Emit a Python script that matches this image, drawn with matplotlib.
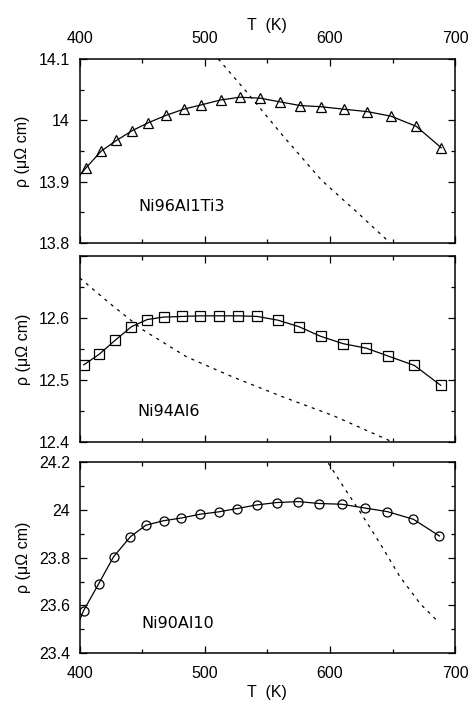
import matplotlib
matplotlib.use('Agg')
import matplotlib.pyplot as plt
from matplotlib.ticker import MultipleLocator, FuncFormatter

plt.rcParams['font.family'] = ['Liberation Sans', 'DejaVu Sans']

# Ni96Al1Ti3 (triangles)
t1 = [404.8, 417.3, 429.3, 441.9, 454.9, 469.0, 483.0, 497.0, 512.5, 528.0,
      544.0, 560.0, 576.0, 593.0, 611.0, 630.0, 649.0, 669.0, 689.0]
r1 = [13.922, 13.950, 13.967, 13.983, 13.996, 14.008, 14.018, 14.025, 14.033, 14.0375,
      14.036, 14.030, 14.024, 14.022, 14.018, 14.014, 14.0065, 13.990, 13.955]
fit1_t = [400.0] + t1
fit1_r = [13.91] + r1
dash1_t = [510.7, 534.7, 561.0, 593.3, 622.7, 648.0]
dash1_r = [14.100, 14.043, 13.978, 13.902, 13.848, 13.800]

# Ni94Al6 (squares)
t2 = [403.2, 415.5, 428.5, 441.3, 453.9, 467.0, 481.6, 496.0, 511.0, 526.4,
      541.9, 558.4, 575.2, 592.5, 610.7, 628.8, 646.7, 667.5, 688.5]
r2 = [12.525, 12.542, 12.565, 12.5865, 12.598, 12.602, 12.603, 12.604, 12.604, 12.604,
      12.603, 12.597, 12.5865, 12.571, 12.559, 12.552, 12.539, 12.524, 12.492]
dash2_t = [400.0, 424.0, 450.7, 485.3, 522.7, 562.7, 602.7, 650.7]
dash2_r = [12.665, 12.624, 12.581, 12.538, 12.505, 12.473, 12.443, 12.400]

# Ni90Al10 (circles)
t3 = [403.0, 415.0, 427.0, 440.5, 452.8, 467.0, 481.0, 496.0, 511.0, 525.9,
      541.3, 557.3, 574.7, 591.5, 609.3, 628.0, 645.9, 666.7, 687.5]
r3 = [23.578, 23.690, 23.804, 23.888, 23.936, 23.955, 23.966, 23.982, 23.992, 24.006,
      24.021, 24.031, 24.035, 24.027, 24.024, 24.008, 23.993, 23.961, 23.891]
fit3_t = [400.0] + t3
fit3_r = [23.54] + r3
dash3_t = [598.7, 610.7, 624.0, 640.0, 656.0, 672.0, 686.7]
dash3_r = [24.196, 24.098, 23.993, 23.860, 23.720, 23.608, 23.531]

names = ['Ni96Al1Ti3', 'Ni94Al6', 'Ni90Al10']

FS = 11.5

fig = plt.figure(figsize=(4.75, 7.1), dpi=100)
ax1 = fig.add_axes([0.168, 0.658, 0.790, 0.259])
ax2 = fig.add_axes([0.168, 0.377, 0.790, 0.262])
ax3 = fig.add_axes([0.168, 0.080, 0.790, 0.269])

fmt = FuncFormatter(lambda v, p: '%g' % round(v, 3))

panels = [
    (ax1, fit1_t, fit1_r, t1, r1, '^', dash1_t, dash1_r, (13.8, 14.1), 0.1, 0.05, (447, 13.852)),
    (ax2, t2, r2, t2, r2, 's', dash2_t, dash2_r, (12.4, 12.7), 0.1, 0.05, (446, 12.442)),
    (ax3, fit3_t, fit3_r, t3, r3, 'o', dash3_t, dash3_r, (23.4, 24.2), 0.2, 0.1, (449, 23.505)),
]

for i, (ax, ft, fr, mt, mr, mk, dt, dr, ylim, ymaj, ymin, lab) in enumerate(panels):
  ax.plot(ft, fr, '-', color='black', lw=0.9)
  ax.plot(mt, mr, mk, ms=6.5, mfc='none', mec='black', mew=0.9)
  ax.plot(dt, dr, color='black', lw=0.9, dashes=(2.5, 4))
  ax.set_xlim(400, 700)
  ax.set_ylim(*ylim)
  ax.xaxis.set_major_locator(MultipleLocator(100))
  ax.xaxis.set_minor_locator(MultipleLocator(50))
  ax.yaxis.set_major_locator(MultipleLocator(ymaj))
  ax.yaxis.set_minor_locator(MultipleLocator(ymin))
  ax.yaxis.set_major_formatter(fmt)
  ax.tick_params(which='both', direction='in', top=True, right=True, labelsize=FS)
  ax.tick_params(which='major', length=5, width=0.9)
  ax.tick_params(which='minor', length=3, width=0.9)
  ax.tick_params(axis='y', pad=7)
  for s in ax.spines.values():
    s.set_linewidth(1.1)
  ax.set_ylabel('ρ (μΩ cm)', fontsize=FS, labelpad=6)
  ax.text(lab[0], lab[1], names[i], fontsize=FS, family='DejaVu Sans')
  ax.tick_params(axis='x', labelbottom=False)

# top labels on first panel, bottom labels on last
ax1.tick_params(axis='x', labeltop=True, pad=9)
ax1.set_xlabel('T  (K)', fontsize=FS, labelpad=1)
ax1.xaxis.set_label_position('top')
ax3.tick_params(axis='x', labelbottom=True, pad=9)
ax3.set_xlabel('T  (K)', fontsize=FS, labelpad=3)

# middle panel: no label at its top tick (12.7)
ax2.set_yticks([12.4, 12.5, 12.6, 12.7])
ax2.set_yticklabels(['12.4', '12.5', '12.6', ''])

fig.savefig('out.png', dpi=100)
